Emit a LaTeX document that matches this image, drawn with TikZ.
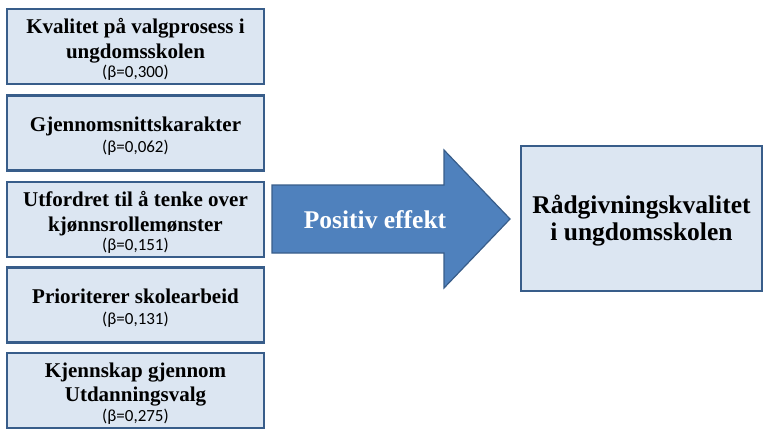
\documentclass[tikz,border=0pt]{standalone}
\usepackage{fontspec}
\setmainfont{Liberation Serif}
\newfontfamily\betafont{Carlito}
\definecolor{boxfill}{HTML}{DCE6F2}
\definecolor{boxline}{HTML}{385D8A}
\definecolor{arrowfill}{HTML}{4F81BD}
\newcommand{\betaline}[1]{{\betafont\mdseries\fontsize{17}{19}\selectfont #1}}
\begin{document}
\begin{tikzpicture}[x=1pt,y=-1pt,
  leftbox/.style={draw=boxline, line width=2.5pt, fill=boxfill, minimum width=257pt, minimum height=75pt, inner sep=0pt},
  lefttext/.style={align=center, inner sep=0pt, font=\bfseries\fontsize{21}{24.5}\selectfont}]
\useasboundingbox (0,0) rectangle (770,436);
\node[leftbox] (b1) at (135.5,46.5) {};
\node[leftbox] (b2) at (135.5,133) {};
\node[leftbox] (b3) at (135.5,219.5) {};
\node[leftbox] (b4) at (135.5,305) {};
\node[leftbox] (b5) at (135.5,390.5) {};
\node[lefttext] (t1) at ([yshift=-3pt]b1.center) {Kvalitet på valgprosess i\\ungdomsskolen\\[-5pt]\betaline{(β=0,300)}};
\node[lefttext] (t2) at ([yshift=-3.5pt]b2.center) {Gjennomsnittskarakter\\[-3.5pt]\betaline{(β=0,062)}};
\node[lefttext] (t3) at ([yshift=-3pt]b3.center) {Utfordret til å tenke over\\kjønnsrollemønster\\[-5pt]\betaline{(β=0,151)}};
\node[lefttext] (t4) at ([yshift=-3.5pt]b4.center) {Prioriterer skolearbeid\\[-3.5pt]\betaline{(β=0,131)}};
\node[lefttext] (t5) at ([yshift=-3pt]b5.center) {Kjennskap gjennom\\Utdanningsvalg\\[-5pt]\betaline{(β=0,275)}};
\draw[boxline, line width=1.2pt, fill=arrowfill, line join=miter]
  (272,185) -- (444,185) -- (444,150) -- (510,219) -- (444,288) -- (444,253) -- (272,253) -- cycle;
\node[text=white, font=\bfseries\fontsize{25.5}{30}\selectfont] (arrowlabel) at (375,220) {Positiv effekt};
\node[draw=boxline, line width=2.5pt, fill=boxfill, minimum width=241pt, minimum height=145pt] (target) at (641.5,218.5) {};
\node[align=center, inner sep=0pt, font=\bfseries\fontsize{25.5}{27}\selectfont] (targettext) at ([yshift=-2pt]target.center) {Rådgivningskvalitet\\i ungdomsskolen};
\end{tikzpicture}
\end{document}
